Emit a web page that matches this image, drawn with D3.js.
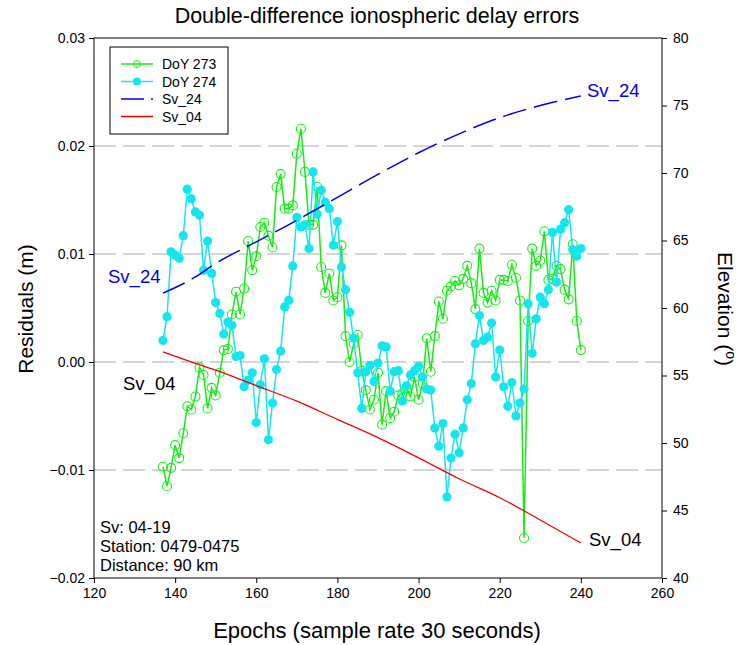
<!DOCTYPE html>
<html><head><meta charset="utf-8">
<script src="https://cdn.jsdelivr.net/npm/d3@7"></script>
<style>body{margin:0;background:#fff}svg{display:block;font-family:Arial,"Liberation Sans",sans-serif}</style>
</head><body><svg id="c" width="742" height="645"></svg>
<script>
const epochStart = 137, epochEnd = 240;
const doy273 = [-0.0097,-0.0115,-0.0098,-0.0077,-0.0089,-0.0066,-0.0041,-0.0044,-0.0032,-0.0005,
 -0.0012,-0.0043,-0.0024,-0.0031,-0.0010,0.0011,0.0012,0.0044,0.0065,0.0044,
 0.0068,0.0112,0.0085,0.0098,0.0125,0.0129,0.0117,0.0106,0.0162,0.0174,
 0.0142,0.0142,0.0145,0.0193,0.0216,0.0176,0.0127,0.0127,0.0162,0.0088,
 0.0064,0.0082,0.0057,0.0060,0.0108,0.0024,0.0000,0.0017,0.0025,-0.0008,
 -0.0026,-0.0044,-0.0035,-0.0010,-0.0058,-0.0027,-0.0052,-0.0046,-0.0031,-0.0029,
 -0.0024,-0.0032,-0.0014,-0.0035,-0.0020,0.0022,-0.0009,0.0024,0.0056,0.0040,
 0.0066,0.0070,0.0075,0.0071,0.0077,0.0089,0.0073,0.0049,0.0105,0.0064,
 0.0055,0.0066,0.0057,0.0076,0.0076,0.0075,0.0090,0.0078,0.0057,-0.0163,
 0.0038,0.0105,0.0089,0.0094,0.0121,0.0076,0.0077,0.0089,0.0086,0.0067,
 0.0058,0.0109,0.0038,0.0011];
const doy274 = [0.0020,0.0042,0.0102,0.0099,0.0096,0.0117,0.0160,0.0151,0.0139,0.0136,
 0.0085,0.0112,0.0082,0.0055,0.0045,0.0026,0.0037,0.0034,0.0005,0.0006,
 -0.0023,-0.0017,-0.0010,-0.0056,-0.0021,0.0003,-0.0072,-0.0038,-0.0007,0.0010,
 0.0051,0.0057,0.0089,0.0134,0.0125,0.0127,0.0105,0.0176,0.0137,0.0159,
 0.0148,0.0142,0.0108,0.0130,0.0088,0.0067,0.0046,0.0022,-0.0010,-0.0043,
 -0.0009,-0.0003,-0.0018,-0.0001,0.0015,0.0014,-0.0027,-0.0009,-0.0008,-0.0036,
 -0.0022,-0.0012,-0.0008,-0.0004,-0.0014,-0.0025,-0.0026,-0.0061,-0.0078,-0.0057,
 -0.0125,-0.0089,-0.0067,-0.0084,-0.0061,-0.0035,-0.0020,0.0017,0.0043,0.0020,
 0.0023,0.0036,-0.0014,0.0011,-0.0023,-0.0041,-0.0019,-0.0050,-0.0038,-0.0025,
 0.0054,0.0008,0.0040,0.0060,0.0054,0.0067,0.0120,0.0074,0.0123,0.0129,
 0.0141,0.0104,0.0098,0.0105];
const elevEpochs = [137,145,150,160,170,180,190,200,210,220,230,240];
const sv24 = [61.1,62.3,63.3,64.9,66.5,68.2,69.9,71.5,72.9,74.1,75.0,75.7];
const sv04 = [56.75,55.9,55.4,54.25,53.1,51.75,50.4,48.9,47.35,45.95,44.3,42.6];
const xTicks = [120,140,160,180,200,220,240,260];
const yTicks = [-0.02,-0.01,0.00,0.01,0.02,0.03];
const y2Ticks = [40,45,50,55,60,65,70,75,80];
const gridVals = [-0.01,0.00,0.01,0.02];
const infoLines = ["Sv: 04-19","Station: 0479-0475","Distance: 90 km"];

const L=94,R=662,T=38,B=578;
const svg=d3.select("#c");
const x=d3.scaleLinear().domain([120,260]).range([L,R]);
const y=d3.scaleLinear().domain([-0.02,0.03]).range([B,T]);
const y2=d3.scaleLinear().domain([40,80]).range([B,T]);
const epochs=d3.range(epochStart,epochEnd+1);
const green="#12ee12", cyan="#14e6f0";

// grid
svg.append("g").selectAll("line").data(gridVals).join("line")
 .attr("x1",L).attr("x2",R).attr("y1",d=>y(d)).attr("y2",d=>y(d))
 .attr("stroke","#c8c8c8").attr("stroke-width",1.6).attr("stroke-dasharray","22,7");

// axes
const ax=svg.append("g").attr("transform",`translate(0,${B})`).call(d3.axisBottom(x).tickValues(xTicks).tickSize(5).tickPadding(5).tickFormat(d3.format("d")));
const ay=svg.append("g").attr("transform",`translate(${L},0)`).call(d3.axisLeft(y).tickValues(yTicks).tickSize(5).tickPadding(4).tickFormat(d3.format(".2f")));
const ay2=svg.append("g").attr("transform",`translate(${R},0)`).call(d3.axisRight(y2).tickValues(y2Ticks).tickSize(5).tickPadding(6).tickFormat(d3.format("d")));
[ax,ay,ay2].forEach(g=>{g.select(".domain").remove();g.selectAll("text").attr("font-size",14).attr("fill","#000").attr("font-family","Arial, 'Liberation Sans', sans-serif");g.selectAll("line").attr("stroke","#000");});
svg.append("rect").attr("x",L).attr("y",T).attr("width",R-L).attr("height",B-T).attr("fill","none").attr("stroke","#000").attr("stroke-width",1);

// series
const lineFn=d3.line().x((d,i)=>x(epochs[i])).y(d=>y(d));
svg.append("path").datum(doy273).attr("d",lineFn).attr("fill","none").attr("stroke",green).attr("stroke-width",1.5);
svg.append("g").selectAll("circle").data(doy273).join("circle")
 .attr("cx",(d,i)=>x(epochs[i])).attr("cy",d=>y(d)).attr("r",4.5).attr("fill","none").attr("stroke",green).attr("stroke-width",1.1);
svg.append("path").datum(doy274).attr("d",lineFn).attr("fill","none").attr("stroke",cyan).attr("stroke-width",1.5);
svg.append("g").selectAll("circle").data(doy274).join("circle")
 .attr("cx",(d,i)=>x(epochs[i])).attr("cy",d=>y(d)).attr("r",4.6).attr("fill",cyan);

const eLine=d3.line().x((d,i)=>x(elevEpochs[i])).y(d=>y2(d)).curve(d3.curveMonotoneX);
svg.append("path").datum(sv24).attr("d",eLine).attr("fill","none").attr("stroke","#0000e0").attr("stroke-width",1.5).attr("stroke-dasharray","24,8");
svg.append("path").datum(sv04).attr("d",eLine).attr("fill","none").attr("stroke","#f00000").attr("stroke-width",1.2);

// annotations
svg.append("text").attr("x",108).attr("y",283).attr("font-size",18.5).attr("fill","#0000e0").text("Sv_24");
svg.append("text").attr("x",587).attr("y",97).attr("font-size",18.5).attr("fill","#0000e0").text("Sv_24");
svg.append("text").attr("x",123).attr("y",390).attr("font-size",18.5).attr("fill","#000").text("Sv_04");
svg.append("text").attr("x",589).attr("y",546).attr("font-size",18.5).attr("fill","#000").text("Sv_04");
svg.append("g").selectAll("text").data(infoLines).join("text")
 .attr("x",100).attr("y",(d,i)=>533+i*19).attr("font-size",16.5).attr("fill","#000").text(d=>d);

// titles
svg.append("text").attr("x",377).attr("y",23).attr("text-anchor","middle").attr("font-size",21.5).text("Double-difference ionospheric delay errors");
svg.append("text").attr("x",377).attr("y",638).attr("text-anchor","middle").attr("font-size",22).text("Epochs (sample rate 30 seconds)");
svg.append("text").attr("transform","translate(33,309) rotate(-90)").attr("text-anchor","middle").attr("font-size",21).text("Residuals (m)");
const et=svg.append("text").attr("transform","translate(718,309) rotate(90)").attr("text-anchor","middle").attr("font-size",21);
et.append("tspan").text("Elevation (");
et.append("tspan").attr("font-size",14).attr("dy",-8).text("o");
et.append("tspan").attr("dy",8).text(")");

// legend
const lg=svg.append("g");
lg.append("rect").attr("x",110).attr("y",47).attr("width",118).attr("height",87).attr("fill","#fff").attr("stroke","#000").attr("stroke-width",1);
const items=[{n:"DoY 273",c:green,t:"open"},{n:"DoY 274",c:cyan,t:"fill"},{n:"Sv_24",c:"#0000e0",t:"dash"},{n:"Sv_04",c:"#f00000",t:"line"}];
items.forEach((it,i)=>{
 const yy=64+i*17.5;
 if(it.t==="dash"){
  lg.append("line").attr("x1",121).attr("x2",144).attr("y1",yy).attr("y2",yy).attr("stroke",it.c).attr("stroke-width",1.5);
  lg.append("line").attr("x1",151).attr("x2",153).attr("y1",yy).attr("y2",yy).attr("stroke",it.c).attr("stroke-width",1.5);
 } else {
  lg.append("line").attr("x1",121).attr("x2",153).attr("y1",yy).attr("y2",yy).attr("stroke",it.c).attr("stroke-width",1.5);
 }
 if(it.t==="open") lg.append("circle").attr("cx",137).attr("cy",yy).attr("r",3.5).attr("fill","none").attr("stroke",it.c);
 if(it.t==="fill") lg.append("circle").attr("cx",137).attr("cy",yy).attr("r",4).attr("fill",it.c);
 lg.append("text").attr("x",162).attr("y",yy+5).attr("font-size",14).text(it.n);
});
</script></body></html>
